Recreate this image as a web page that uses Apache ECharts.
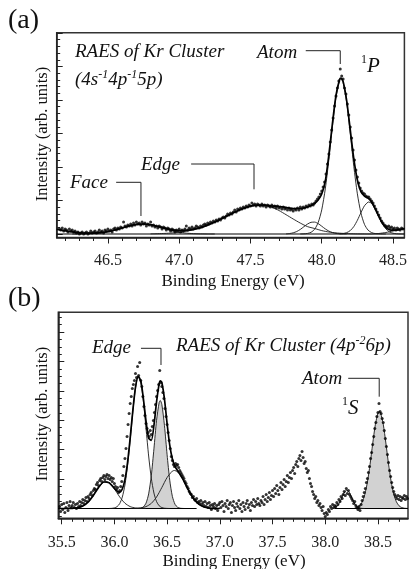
<!DOCTYPE html>
<html><head><meta charset="utf-8">
<script src="https://cdn.jsdelivr.net/npm/echarts@6/dist/echarts.min.js"></script>
<style>html,body{margin:0;padding:0;background:#fff}#c{width:410px;height:569px}</style>
</head><body><div id="c"></div>
<script>
// ================= Panel (a): RAES of Kr Cluster (4s-1 4p-1 5p) =================
const aXRange = [46.141, 48.58];
const aYRange = [-3.5, 201.3];
const aXMajor = [46.5, 47.0, 47.5, 48.0, 48.5];
const aXMinor = [46.2,46.3,46.4,46.6,46.7,46.8,46.9,47.1,47.2,47.3,47.4,47.6,47.7,47.8,47.9,48.1,48.2,48.3,48.4];
const aYMajor = [0, 33.5, 67, 100.5, 134, 167.5, 201];
const aYMinor = [6.7,13.4,20.1,26.8,40.2,46.9,53.6,60.3,73.7,80.4,87.1,93.8,107.2,113.9,120.6,127.3,140.7,147.4,154.1,160.8,174.2,180.9,187.6,194.3];

const aPoints = [
[46.16,5],[46.17,4],[46.18,6],[46.19,3],[46.2,5],[46.21,4],[46.22,2],[46.23,5],[46.24,3],[46.25,4],
[46.26,2],[46.27,3],[46.28,1],[46.29,2],[46.3,0],[46.31,1],[46.32,2],[46.33,0],[46.34,1],[46.35,2],
[46.36,0],[46.37,1],[46.38,3],[46.39,1],[46.4,2],[46.41,3],[46.42,1],[46.43,2],[46.44,4],[46.45,2],
[46.46,3],[46.47,1],[46.48,4],[46.49,3],[46.5,5],[46.51,3],[46.52,4],[46.53,2],[46.54,5],[46.55,6],
[46.56,4],[46.57,6],[46.58,5],[46.59,7],[46.6,6],[46.61,12],[46.62,8],[46.63,7],[46.64,9],[46.65,8],
[46.66,10],[46.67,8],[46.68,11],[46.69,9],[46.7,12],[46.71,10],[46.72,11],[46.73,9],[46.74,12],[46.75,10],
[46.76,11],[46.77,8],[46.78,10],[46.79,9],[46.8,12],[46.81,8],[46.82,9],[46.83,7],[46.84,8],[46.85,6],
[46.86,8],[46.87,7],[46.88,5],[46.89,7],[46.9,6],[46.91,4],[46.92,6],[46.93,5],[46.94,3],[46.95,5],
[46.96,4],[46.97,2],[46.98,4],[46.99,3],[47.0,5],[47.01,2],[47.02,4],[47.03,3],[47.04,5],[47.05,8],
[47.06,4],[47.07,6],[47.08,5],[47.09,7],[47.1,5],[47.11,6],[47.12,8],[47.13,7],[47.14,6],[47.15,8],
[47.16,7],[47.17,9],[47.18,10],[47.19,9],[47.2,11],[47.21,10],[47.22,12],[47.23,11],[47.24,13],[47.25,12],
[47.26,14],[47.27,13],[47.28,15],[47.29,14],[47.3,16],[47.31,17],[47.32,16],[47.33,18],[47.34,20],[47.35,19],
[47.36,21],[47.37,20],[47.38,22],[47.39,24],[47.4,22],[47.41,25],[47.42,24],[47.43,26],[47.44,25],[47.45,27],
[47.46,26],[47.47,28],[47.48,27],[47.49,29],[47.5,28],[47.51,31],[47.52,29],[47.53,30],[47.54,28],[47.55,30],
[47.56,29],[47.57,28],[47.58,30],[47.59,28],[47.6,29],[47.61,27],[47.62,29],[47.63,28],[47.64,27],[47.65,29],
[47.66,27],[47.67,28],[47.68,26],[47.69,28],[47.7,26],[47.71,27],[47.72,25],[47.73,27],[47.74,25],[47.75,26],
[47.76,24],[47.77,26],[47.78,24],[47.79,25],[47.8,23],[47.81,25],[47.82,24],[47.83,26],[47.84,24],[47.85,27],
[47.86,25],[47.87,27],[47.88,26],[47.89,28],[47.9,27],[47.91,29],[47.92,28],[47.93,30],[47.94,29],[47.95,31],
[47.96,33],[47.97,35],[47.98,37],[47.99,40],[48.0,43],[48.01,47],[48.02,52],[48.03,60],[48.04,70],[48.05,80],
[48.06,92],[48.07,104],[48.08,116],[48.09,128],[48.1,138],[48.11,146],[48.12,153],[48.13,165],[48.14,158],[48.15,155],
[48.16,146],[48.17,140],[48.18,130],[48.19,119],[48.2,107],[48.21,96],[48.22,84],[48.23,74],[48.24,64],[48.25,57],
[48.26,51],[48.27,46],[48.28,43],[48.29,41],[48.3,40],[48.31,38],[48.32,37],[48.33,37],[48.34,35],[48.35,33],
[48.36,31],[48.37,28],[48.38,25],[48.39,22],[48.4,19],[48.41,16],[48.42,13],[48.43,11],[48.44,9],[48.45,8],
[48.46,7],[48.47,8],[48.48,6],[48.49,7],[48.5,5],[48.51,6],[48.52,4],[48.53,6],[48.54,5],[48.55,4],
[48.56,6],[48.57,5]
];
const aFit = [
[46.141,4.7],[46.15,4.5],[46.2,3.3],[46.25,2.1],[46.3,1.3],[46.35,0.8],[46.4,0.8],[46.45,1.3],[46.5,2.3],[46.55,4.0],
[46.6,6.1],[46.65,8.1],[46.7,9.6],[46.75,10.0],[46.8,9.3],[46.85,7.6],[46.9,5.8],[46.95,4.2],[47.0,3.5],[47.05,3.6],
[47.1,4.6],[47.15,6.4],[47.2,8.9],[47.25,11.9],[47.3,15.4],[47.35,19.1],[47.4,22.6],[47.45,25.6],[47.5,27.8],[47.55,28.9],
[47.6,28.8],[47.65,28],[47.7,27.5],[47.75,26.5],[47.8,25.5],[47.85,25.5],[47.875,26],[47.9,27],[47.925,28.5],[47.95,30.5],
[47.975,34],[48.0,40],[48.025,52.8],[48.05,79.1],[48.075,110.3],[48.1,138.5],[48.125,154.6],[48.135,156.0],[48.15,152.6],[48.175,133.4],
[48.2,104.4],[48.225,75.4],[48.25,54.0],[48.275,42.4],[48.3,37.9],[48.325,35.8],[48.35,32.0],[48.375,25.3],[48.4,17.9],[48.425,11.1],
[48.45,6.6],[48.475,4.3],[48.5,3.8],[48.525,3.9],[48.55,4.6],[48.58,5.5]
];
const aFace = [[46.25,0],[46.3,0.07],[46.35,0.21],[46.4,0.52],[46.45,1.17],[46.5,2.3],[46.55,4.0],[46.6,6.1],[46.65,8.1],[46.7,9.6],[46.75,10.0],[46.8,9.1],[46.85,7.3],[46.9,5.2],[46.95,3.2],[47.0,1.8],[47.05,0.86],[47.1,0.37],[47.15,0.14],[47.2,0.04],[47.25,0]];
const aEdge = [[46.8,0.17],[46.85,0.32],[46.9,0.59],[46.95,1.03],[47.0,1.73],[47.05,2.77],[47.1,4.26],[47.15,6.27],[47.2,8.84],[47.25,11.9],[47.3,15.4],[47.35,19.1],[47.4,22.6],[47.45,25.6],[47.5,27.8],[47.55,28.9],[47.6,28.7],[47.65,26.8],[47.7,23.5],[47.75,19.3],[47.8,15.0],[47.85,10.9],[47.9,7.4],[47.95,5.5],[48.0,3.4],[48.05,2.0],[48.1,1.1],[48.15,0.6],[48.2,0.3],[48.25,0.12],[48.3,0.05],[48.35,0]];
const aSmall = [[47.75,0.17],[47.775,0.48],[47.8,1.2],[47.825,2.5],[47.85,4.6],[47.875,7.3],[47.9,9.9],[47.925,11.7],[47.95,11.9],[47.975,10.4],[48.0,7.8],[48.025,5.1],[48.05,2.9],[48.075,1.4],[48.1,0.58],[48.125,0.21],[48.15,0.06],[48.175,0]];
const aAtom = [[47.85,0.05],[47.875,0.16],[47.9,0.55],[47.925,1.7],[47.95,4.7],[47.975,11.4],[48.0,24.1],[48.025,45.1],[48.05,74.2],[48.075,107.4],[48.1,136.8],[48.125,153.4],[48.135,155],[48.15,151.5],[48.175,131.6],[48.2,100.7],[48.225,67.8],[48.25,40.2],[48.275,21.0],[48.3,9.6],[48.325,3.9],[48.35,1.4],[48.375,0.43],[48.4,0.12],[48.425,0.03],[48.45,0]];
const a1P = [[48.125,0.13],[48.15,0.46],[48.175,1.36],[48.2,3.4],[48.225,7.4],[48.25,13.7],[48.275,21.3],[48.3,28.3],[48.325,31.9],[48.33,32],[48.35,30.6],[48.375,24.9],[48.4,17.3],[48.425,10.1],[48.45,5.1],[48.475,2.1],[48.5,0.78],[48.525,0.24],[48.55,0.07],[48.58,0]];
const aTailR = [[48.35,0],[48.4,0.5],[48.45,1.5],[48.5,3.0],[48.55,4.5],[48.58,5.5]];
const aBaseline = [[46.141,0],[48.58,0]];

// ================= Panel (b): RAES of Kr Cluster (4p-2 6p) =================
const bXRange = [35.468, 38.785];
const bYRange = [-9.8, 196.2];
const bXMajor = [35.5, 36.0, 36.5, 37.0, 37.5, 38.0, 38.5];
const bXMinor = [35.6,35.7,35.8,35.9,36.1,36.2,36.3,36.4,36.6,36.7,36.8,36.9,37.1,37.2,37.3,37.4,37.6,37.7,37.8,37.9,38.1,38.2,38.3,38.4,38.6,38.7];
const bYMajor = [0, 29.4, 58.8, 88.2, 117.6, 147, 176.4];
const bYMinor = [-7.35,7.35,14.7,22.05,36.75,44.1,51.45,66.15,73.5,80.85,95.55,102.9,110.25,124.95,132.3,139.65,154.35,161.7,169.05,183.75,191.1];

const bPoints = [
[35.48,2],[35.49,-3],[35.5,4],[35.51,-1],[35.52,5],[35.53,-4],[35.54,1],[35.55,6],[35.56,-2],[35.57,3],
[35.58,7],[35.59,1],[35.6,3],[35.61,6],[35.62,1],[35.63,4],[35.64,0],[35.65,5],[35.66,2],[35.67,7],
[35.68,3],[35.69,6],[35.7,9],[35.71,5],[35.72,8],[35.73,11],[35.74,7],[35.75,12],[35.76,10],[35.77,14],
[35.78,16],[35.79,13],[35.8,18],[35.81,20],[35.82,19],[35.83,24],[35.84,26],[35.85,23],[35.86,28],[35.87,30],
[35.88,27],[35.89,31],[35.9,33],[35.91,29],[35.92,32],[35.93,34],[35.94,30],[35.95,33],[35.96,29],[35.97,31],
[35.98,27],[35.99,30],[36.0,25],[36.01,22],[36.02,19],[36.03,21],[36.04,16],[36.05,18],[36.06,22],[36.07,27],
[36.08,33],[36.09,42],[36.1,50],[36.11,60],[36.12,72],[36.13,84],[36.14,95],[36.15,105],[36.16,112],[36.17,120],
[36.18,124],[36.19,128],[36.2,135],[36.21,131],[36.22,142],[36.23,133],[36.24,146],[36.25,128],[36.26,122],[36.27,112],
[36.28,102],[36.29,93],[36.3,85],[36.31,80],[36.32,76],[36.33,72],[36.34,78],[36.35,74],[36.36,82],[36.37,88],
[36.38,96],[36.39,104],[36.4,112],[36.41,118],[36.42,124],[36.43,138],[36.44,126],[36.45,122],[36.46,116],[36.47,110],
[36.48,100],[36.49,92],[36.5,84],[36.51,76],[36.52,68],[36.53,60],[36.54,52],[36.55,48],[36.56,44],[36.57,42],
[36.58,45],[36.59,43],[36.6,44],[36.61,41],[36.62,38],[36.63,36],[36.64,34],[36.65,32],[36.66,30],[36.67,27],
[36.68,25],[36.69,22],[36.7,20],[36.71,17],[36.72,15],[36.73,14],[36.74,11],[36.75,12],[36.76,9],[36.77,8],
[36.78,10],[36.79,6],[36.8,7],[36.81,5],[36.82,8],[36.83,4],[36.84,6],[36.85,3],[36.86,7],[36.87,2],
[36.88,5],[36.89,1],[36.9,6],[36.91,3],[36.92,-1],[36.93,4],[36.94,2],[36.95,5],[36.96,0],[36.97,3],
[36.98,-2],[36.99,4],[37.0,6],[37.01,1],[37.02,7],[37.03,3],[37.04,-3],[37.05,5],[37.06,2],[37.07,8],
[37.08,0],[37.09,4],[37.1,6],[37.11,-4],[37.12,3],[37.13,7],[37.14,1],[37.15,-2],[37.16,5],[37.17,2],
[37.18,8],[37.19,0],[37.2,4],[37.21,-3],[37.22,6],[37.23,2],[37.24,-1],[37.25,5],[37.26,8],[37.27,1],
[37.28,4],[37.29,-2],[37.3,6],[37.31,3],[37.32,9],[37.33,2],[37.34,7],[37.35,4],[37.36,10],[37.37,5],
[37.38,3],[37.39,8],[37.4,6],[37.41,12],[37.42,4],[37.43,9],[37.44,14],[37.45,7],[37.46,11],[37.47,16],
[37.48,9],[37.49,13],[37.5,18],[37.51,12],[37.52,20],[37.53,15],[37.54,23],[37.55,18],[37.56,14],[37.57,21],
[37.58,26],[37.59,19],[37.6,24],[37.61,29],[37.62,22],[37.63,27],[37.64,33],[37.65,26],[37.66,31],[37.67,36],
[37.68,30],[37.69,38],[37.7,41],[37.71,35],[37.72,44],[37.73,47],[37.74,42],[37.75,50],[37.76,53],[37.77,48],
[37.78,57],[37.79,51],[37.8,45],[37.81,47],[37.82,40],[37.83,36],[37.84,38],[37.85,30],[37.86,25],[37.87,22],
[37.88,17],[37.89,14],[37.9,10],[37.91,12],[37.92,6],[37.93,8],[37.94,3],[37.95,5],[37.96,1],[37.97,-2],
[37.98,2],[37.99,-5],[38.0,-8],[38.01,-4],[38.02,-6],[38.03,-1],[38.04,-3],[38.05,2],[38.06,0],[38.07,4],
[38.08,1],[38.09,3],[38.1,2],[38.11,6],[38.12,4],[38.13,9],[38.14,7],[38.15,12],[38.16,10],[38.17,14],
[38.18,17],[38.19,13],[38.2,20],[38.21,15],[38.22,18],[38.23,14],[38.24,12],[38.25,10],[38.26,8],[38.27,5],
[38.28,7],[38.29,3],[38.3,1],[38.31,-1],[38.32,2],[38.33,-2],[38.34,4],[38.35,8],[38.36,12],[38.37,16],
[38.38,20],[38.39,26],[38.4,30],[38.41,36],[38.42,42],[38.43,50],[38.44,56],[38.45,64],[38.46,72],[38.47,80],
[38.48,86],[38.49,92],[38.5,96],[38.51,105],[38.52,97],[38.53,95],[38.54,90],[38.55,86],[38.56,78],[38.57,70],
[38.58,62],[38.59,54],[38.6,46],[38.61,38],[38.62,32],[38.63,26],[38.64,21],[38.65,17],[38.66,14],[38.67,12],
[38.68,10],[38.69,13],[38.7,9],[38.71,12],[38.72,8],[38.73,11],[38.74,10],[38.75,13],[38.76,9],[38.77,12],
[38.78,10]
];
const bFit = [
[35.468,0],[35.5,0.02],[35.55,0.03],[35.6,0.16],[35.65,0.71],[35.7,2.4],[35.75,6.4],[35.8,13.1],[35.85,21.1],[35.9,26.5],
[35.95,25.8],[36.0,20.2],[36.025,17.4],[36.05,16.4],[36.075,19.5],[36.1,28.8],[36.125,46.2],[36.15,70.6],[36.175,98.0],[36.2,121.1],
[36.225,132.2],[36.25,127.8],[36.275,110.0],[36.3,87.3],[36.325,70.3],[36.35,68.2],[36.375,83.0],[36.4,106.6],[36.425,124.8],[36.435,127.7],
[36.45,126.0],[36.475,109.4],[36.5,84.8],[36.525,63.3],[36.55,49.5],[36.575,42.2],[36.6,37.8],[36.625,33.8],[36.65,29.3],[36.7,18.9],
[36.75,10.0],[36.8,4.3],[36.85,1.5],[36.9,0.42],[36.95,0.1],[37.0,0]
];
const bPeak1 = [[35.55,0.03],[35.6,0.16],[35.65,0.71],[35.7,2.4],[35.75,6.4],[35.8,13.1],[35.85,21.1],[35.9,26.5],[35.92,27],[35.95,25.8],[36.0,19.6],[36.05,11.6],[36.1,5.3],[36.15,1.9],[36.2,0.53],[36.25,0.12],[36.3,0]];
const bPeak2 = [[35.95,0.04],[35.975,0.17],[36.0,0.6],[36.025,1.8],[36.05,4.8],[36.075,11.4],[36.1,23.5],[36.125,42.9],[36.15,68.7],[36.175,96.9],[36.2,120.4],[36.225,131.7],[36.25,126.7],[36.275,107.4],[36.3,80.1],[36.325,52.5],[36.35,30.4],[36.375,15.5],[36.4,6.9],[36.425,2.7],[36.45,0.94],[36.475,0.29],[36.5,0.08],[36.525,0]];
const bEdgePeak = [[36.225,0.07],[36.25,0.38],[36.275,1.6],[36.3,5.3],[36.325,14.6],[36.35,32.7],[36.375,59.6],[36.4,88.2],[36.425,106.2],[36.435,108],[36.45,104.1],[36.475,82.9],[36.5,53.7],[36.525,28.3],[36.55,12.1],[36.575,4.2],[36.6,1.2],[36.625,0.28],[36.65,0.05],[36.675,0]];
const bPeak4 = [[36.15,0.03],[36.2,0.13],[36.25,0.55],[36.3,1.9],[36.35,5.1],[36.4,11.5],[36.45,21.0],[36.5,31.0],[36.55,37.4],[36.57,38],[36.6,36.6],[36.65,29.2],[36.7,18.9],[36.75,10.0],[36.8,4.3],[36.85,1.5],[36.9,0.42],[36.95,0.1],[37.0,0]];
const bPeak5 = [[38.075,0.1],[38.1,1.2],[38.125,3.8],[38.15,8.8],[38.175,14.8],[38.2,18.4],[38.205,18.5],[38.225,16.8],[38.25,11.2],[38.275,5.5],[38.3,2.0],[38.325,0.5],[38.35,0.1],[38.375,0]];
const bAtomPeak = [[38.275,0.2],[38.3,0.95],[38.325,2.6],[38.35,6.4],[38.375,13.9],[38.4,26.4],[38.425,44.0],[38.45,64.7],[38.475,83.7],[38.5,95.4],[38.513,97],[38.525,95.6],[38.55,84.4],[38.575,65.5],[38.6,44.8],[38.625,27.0],[38.65,14.3],[38.675,6.7],[38.7,2.7],[38.725,1.0],[38.75,0.3],[38.785,0.05]];
const bBaseline1 = [[35.468,0],[36.78,0]];
const bBaseline2 = [[38.09,0],[38.785,0]];

// Annotation brackets: [x start, x of vertical stem, y of horizontal, y of stem end] (data units)
const aBrackets = [[47.888,48.13,183.3,170],[47.084,47.525,70,44.7],[46.558,46.732,51.7,18]];
const bBrackets = [[36.252,36.442,160.2,143.5],[38.218,38.512,130.2,111.8]];

const FONT = "'Liberation Serif','Times New Roman',serif";
const INK = '#111';

const chart = echarts.init(document.getElementById('c'), null, {renderer:'canvas'});

function xAxes(gi, range, major, minor, margin) {
  return [
    {gridIndex:gi, type:'value', position:'bottom', min:range[0], max:range[1],
     axisLine:{show:true, onZero:false, lineStyle:{color:'#222', width:1.5}},
     axisTick:{show:true, inside:false, length:6, customValues:major, lineStyle:{color:'#222', width:1}},
     axisLabel:{show:true, customValues:major, formatter:v=>Number(v).toFixed(1), fontFamily:FONT, fontSize:16, color:'#222', margin:margin},
     splitLine:{show:false}},
    {gridIndex:gi, type:'value', position:'bottom', min:range[0], max:range[1],
     axisLine:{show:false, onZero:false},
     axisTick:{show:true, inside:false, length:3.5, customValues:minor, lineStyle:{color:'#222', width:1}},
     axisLabel:{show:false}, splitLine:{show:false}}
  ];
}
function yAxes(gi, range, major, minor) {
  return [
    {gridIndex:gi, type:'value', position:'left', min:range[0], max:range[1],
     axisLine:{show:true, onZero:false, lineStyle:{color:'#222', width:1.5}},
     axisTick:{show:true, inside:true, length:6, customValues:major, lineStyle:{color:'#222', width:1}},
     axisLabel:{show:false}, splitLine:{show:false}},
    {gridIndex:gi, type:'value', position:'left', min:range[0], max:range[1],
     axisLine:{show:false, onZero:false},
     axisTick:{show:true, inside:true, length:3.5, customValues:minor, lineStyle:{color:'#222', width:1}},
     axisLabel:{show:false}, splitLine:{show:false}}
  ];
}
function line(data, gi, extra) {
  return Object.assign({type:'line', data:data, xAxisIndex:gi*2, yAxisIndex:gi*2,
    showSymbol:false, symbol:'none', smooth:0.25, silent:true, animation:false,
    lineStyle:{color:'#1a1a1a', width:0.9}, z:3}, extra || {});
}
function dots(data, gi) {
  return {type:'scatter', data:data, xAxisIndex:gi*2, yAxisIndex:gi*2, symbol:'circle', symbolSize:3,
    itemStyle:{color:'#000'}, silent:true, animation:false, z:5};
}
const fitStyle = {lineStyle:{color:'#000', width:1.7}, z:4};
const grayFill = {areaStyle:{color:'#d2d2d2', opacity:1}, z:1};

const option = {
  animation:false,
  backgroundColor:'#fff',
  grid:[
    {left:56.7, top:32.7, width:350.8, height:204.8, show:true, borderColor:'#333', borderWidth:1.5, containLabel:false},
    {left:58.3, top:312.3, width:349.7, height:206, show:true, borderColor:'#333', borderWidth:1.5, containLabel:false}
  ],
  xAxis:[].concat(xAxes(0, aXRange, aXMajor, aXMinor, 15), xAxes(1, bXRange, bXMajor, bXMinor, 16.5)),
  yAxis:[].concat(yAxes(0, aYRange, aYMajor, aYMinor), yAxes(1, bYRange, bYMajor, bYMinor)),
  series:[
    line(aBaseline, 0, {smooth:false, lineStyle:{color:'#000', width:1.2}}),
    line(aFace, 0), line(aEdge, 0), line(aSmall, 0), line(aAtom, 0), line(a1P, 0), line(aTailR, 0),
    line(aFit, 0, fitStyle),
    dots(aPoints, 0),
    line(bBaseline1, 1, {smooth:false, lineStyle:{color:'#000', width:1.2}}),
    line(bBaseline2, 1, {smooth:false, lineStyle:{color:'#000', width:1.2}}),
    line(bEdgePeak, 1, grayFill), line(bAtomPeak, 1, grayFill),
    line(bPeak1, 1), line(bPeak2, 1), line(bPeak4, 1), line(bPeak5, 1),
    line(bFit, 1, fitStyle),
    dots(bPoints, 1)
  ]
};
chart.setOption(option);

// ---------- annotations ----------
function txt(text, x, y, size, italic, align) {
  return {type:'text', x:x, y:y, z:10, silent:true,
    style:{text:text, fill:INK, fontFamily:FONT, fontSize:size, fontStyle:italic?'italic':'normal',
      align:align||'left', textAlign:align||'left', verticalAlign:'middle', textVerticalAlign:'middle'}};
}
function rich(text, x, y, big, small, italicSmall) {
  return {type:'text', x:x, y:y, z:10, silent:true,
    style:{text:text, fill:INK, align:'left', textAlign:'left', verticalAlign:'middle', textVerticalAlign:'middle',
      rich:{
        t:{fontFamily:FONT, fontSize:big, fontStyle:'italic', fill:INK, color:INK, lineHeight:big+3},
        s:{fontFamily:FONT, fontSize:small, fontStyle:italicSmall?'italic':'normal', fill:INK, color:INK, verticalAlign:'top', lineHeight:small}
      }}};
}
function brackets(list, gi) {
  return list.map(b => {
    const p0 = chart.convertToPixel({xAxisIndex:gi*2, yAxisIndex:gi*2}, [b[0], b[2]]);
    const p1 = chart.convertToPixel({xAxisIndex:gi*2, yAxisIndex:gi*2}, [b[1], b[2]]);
    const p2 = chart.convertToPixel({xAxisIndex:gi*2, yAxisIndex:gi*2}, [b[1], b[3]]);
    return {type:'polyline', z:10, silent:true, shape:{points:[p0, p1, p2]}, style:{stroke:'#222', lineWidth:1, fill:null}};
  });
}

const graphics = [
  txt('(a)', 8, 21, 28, false),
  txt('RAES of Kr Cluster', 75, 52, 19, true),
  rich('{t|(4s}{s|-1}{t|4p}{s|-1}{t|5p)}', 75, 80, 19, 12, true),
  txt('Atom', 257, 53, 19, true),
  rich('{s|1}{t|P}', 361, 66, 21, 12, false),
  txt('Edge', 141, 165, 19, true),
  txt('Face', 70, 183, 19, true),
  Object.assign(txt('Intensity (arb. units)', 43, 134, 16.5, false, 'center'), {rotation:Math.PI/2}),
  txt('Binding Energy (eV)', 233, 282, 17, false, 'center'),

  txt('(b)', 8, 299, 28, false),
  rich('{t|RAES of Kr Cluster (4p}{s|-2}{t|6p)}', 176, 346, 19, 12, true),
  txt('Edge', 92, 348, 19, true),
  txt('Atom', 302, 379, 19, true),
  rich('{s|1}{t|S}', 342, 408, 21, 12, false),
  Object.assign(txt('Intensity (arb. units)', 43, 414, 16.5, false, 'center'), {rotation:Math.PI/2}),
  txt('Binding Energy (eV)', 234, 562, 17, false, 'center')
].concat(brackets(aBrackets, 0), brackets(bBrackets, 1));

chart.setOption({graphic:graphics});
</script>
</body></html>
